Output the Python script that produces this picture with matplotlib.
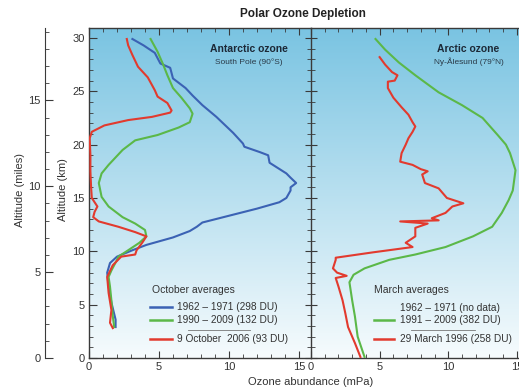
import matplotlib
matplotlib.use('Agg')
import matplotlib.pyplot as plt
import numpy as np
from matplotlib.ticker import MultipleLocator

plt.rcParams['font.family'] = ['Liberation Sans', 'DejaVu Sans']

# Antarctic, South Pole (altitude km, ozone mPa)
ant_1962_alt = [2.9, 3.6, 5.2, 6.7, 8.0, 8.9, 9.5, 10.1, 10.6, 11.3, 11.9, 12.3, 12.7, 13.2, 14.0, 14.6,
                15.0, 15.7, 16.0, 16.4, 16.9, 17.3, 17.8, 18.3, 19.0, 19.3, 19.8, 20.1, 21.1, 21.6, 22.6,
                23.7, 24.6, 25.3, 25.6, 26.2, 27.2, 27.6, 28.6, 29.3, 29.9]
ant_1962_oz = [1.9, 1.9, 1.6, 1.4, 1.3, 1.5, 2.0, 3.1, 4.1, 6.0, 7.2, 7.7, 8.1, 9.6, 12.0, 13.6,
               14.1, 14.4, 14.4, 14.8, 14.4, 14.1, 13.5, 12.9, 12.8, 12.2, 11.1, 11.0, 10.3, 9.9, 9.1,
               8.1, 7.4, 6.9, 6.6, 6.0, 5.8, 5.1, 4.7, 3.9, 3.1]

ant_1990_alt = [2.9, 3.9, 5.4, 6.7, 7.6, 8.2, 9.2, 9.5, 10.1, 10.8, 11.4, 12.0, 12.6, 13.2, 14.2, 15.1,
                16.4, 17.3, 18.1, 19.5, 20.4, 20.9, 21.6, 22.1, 22.9, 23.4, 24.4, 25.3, 26.5, 27.5, 28.7, 29.9]
ant_1990_oz = [1.8, 1.7, 1.6, 1.5, 1.4, 1.6, 2.0, 2.1, 2.8, 3.6, 4.1, 4.0, 3.3, 2.4, 1.4, 0.9,
               0.7, 0.9, 1.4, 2.4, 3.3, 4.9, 6.4, 7.2, 7.4, 7.2, 6.6, 6.0, 5.6, 5.3, 4.9, 4.4]

ant_2006_alt = [2.8, 3.3, 4.5, 6.1, 7.6, 8.7, 9.5, 9.7, 10.1, 10.8, 11.4, 11.8, 12.3, 12.8, 13.2, 13.7,
                14.2, 15.0, 16.0, 17.5, 19.0, 20.6, 21.2, 21.8, 22.3, 22.6, 23.0, 23.2, 23.9, 24.5, 25.1,
                26.3, 27.3, 28.4, 29.3, 29.9]
ant_2006_oz = [1.7, 1.5, 1.6, 1.4, 1.3, 1.7, 2.3, 3.3, 3.4, 3.8, 4.1, 3.3, 2.1, 0.7, 0.3, 0.4,
               0.6, 0.2, 0.15, 0.1, 0.1, 0.05, 0.2, 1.1, 2.8, 4.5, 5.8, 5.9, 5.6, 4.9, 4.7,
               4.2, 3.5, 3.1, 2.8, 2.7]

# Arctic, Ny-Alesund
arc_1991_alt = [0.1, 2.0, 3.9, 5.4, 7.1, 7.8, 8.4, 9.2, 9.7, 10.4, 11.4, 12.3, 13.6, 14.8, 15.7, 17.6,
                19.2, 20.0, 20.9, 22.5, 23.7, 24.9, 26.5, 27.7, 28.9, 29.9]
arc_1991_oz = [3.9, 3.4, 3.2, 3.0, 2.8, 3.1, 3.9, 5.7, 7.6, 9.8, 11.8, 13.2, 13.9, 14.4, 14.7, 14.9,
               14.5, 14.2, 13.6, 12.5, 11.0, 9.3, 7.6, 6.4, 5.4, 4.7]

arc_1996_alt = [0.1, 1.4, 2.9, 4.2, 5.4, 6.7, 7.5, 7.7, 8.0, 8.4, 9.2, 9.4, 9.9, 10.4, 10.8, 11.4,
                12.2, 12.6, 12.8, 12.9, 13.1, 13.6, 14.2, 14.5, 15.0, 15.9, 16.4, 17.2, 17.5, 17.7,
                18.1, 18.4, 19.2, 20.0, 20.6, 21.2, 21.7, 22.1, 22.8, 23.5, 24.4, 25.3, 25.9, 26.0,
                26.5, 26.8, 27.5, 28.2]
arc_1996_oz = [3.6, 3.2, 2.7, 2.5, 2.3, 2.0, 1.8, 2.6, 1.9, 1.6, 1.8, 1.8, 4.5, 7.4, 6.9, 7.6,
               7.6, 8.5, 6.5, 9.3, 8.8, 9.8, 10.3, 11.1, 9.9, 9.3, 8.3, 8.1, 8.5, 8.0,
               7.4, 6.5, 6.6, 6.9, 7.1, 7.4, 7.6, 7.4, 7.1, 6.6, 6.0, 5.6, 5.6, 6.1,
               6.3, 5.9, 5.4, 5.0]

BLUE = '#3b62b4'
GREEN = '#5bb848'
RED = '#e23a2e'
SPINE = '#3a3a3a'

W, H = 519, 391
fig = plt.figure(figsize=(W / 100, H / 100), dpi=100)

bottom = (H - 358) / H
height = 330 / H
ymax = 30.93

ax1 = fig.add_axes([89 / W, bottom, 222 / W, height])
ax2 = fig.add_axes([311 / W, bottom, 210 / W, height])

# background gradient
grad = np.linspace(0, 1, 256)[:, None]
top_c = np.array([122, 196, 226]) / 255
bot_c = np.array([246, 251, 253]) / 255
img = top_c[None, None, :] * (1 - grad[:, :, None]) + bot_c[None, None, :] * grad[:, :, None]

for ax, xmax in ((ax1, 15.86), (ax2, 15.3)):
    ax.imshow(img, extent=[0, 1, 0, 1], transform=ax.transAxes, aspect='auto', zorder=0)
    ax.set_xlim(0, xmax)
    ax.set_ylim(0, ymax)
    ax.xaxis.set_major_locator(MultipleLocator(5))
    ax.xaxis.set_minor_locator(MultipleLocator(1))
    ax.yaxis.set_major_locator(MultipleLocator(5))
    ax.yaxis.set_minor_locator(MultipleLocator(1))
    for s in ax.spines.values():
        s.set_color(SPINE)
        s.set_linewidth(1.0)
    ax.tick_params(axis='x', which='both', direction='in', top=True, colors=SPINE,
                   labelsize=8, labelcolor='#333333', pad=3)
    ax.tick_params(axis='x', which='major', length=5)
    ax.tick_params(axis='x', which='minor', length=3)

ax1.tick_params(axis='y', which='both', direction='in', colors=SPINE, labelsize=8,
                labelcolor='#333333', pad=3)
ax1.tick_params(axis='y', which='major', length=6)
ax1.tick_params(axis='y', which='minor', length=3)
ax1.spines['right'].set_visible(False)

ax2.tick_params(axis='y', which='both', direction='inout', colors=SPINE, labelleft=False)
ax2.tick_params(axis='y', which='major', length=9)
ax2.tick_params(axis='y', which='minor', length=6)
ax2.spines['right'].set_visible(False)

ax1.plot(ant_1962_oz, ant_1962_alt, color=BLUE, lw=1.5, zorder=3)
ax1.plot(ant_1990_oz, ant_1990_alt, color=GREEN, lw=1.5, zorder=3)
ax1.plot(ant_2006_oz, ant_2006_alt, color=RED, lw=1.5, zorder=4)

ax2.plot(arc_1991_oz, arc_1991_alt, color=GREEN, lw=1.5, zorder=3)
ax2.plot(arc_1996_oz, arc_1996_alt, color=RED, lw=1.5, zorder=4)

# panel titles
ax1.text(0.72, 0.936, 'Antarctic ozone', transform=ax1.transAxes, ha='center', va='center',
         fontsize=7.5, fontweight='bold', color='#1c2836')
ax1.text(0.72, 0.897, 'South Pole (90°S)', transform=ax1.transAxes, ha='center', va='center',
         fontsize=6, color='#2a3a48')
ax2.text(0.75, 0.936, 'Arctic ozone', transform=ax2.transAxes, ha='center', va='center',
         fontsize=7.5, fontweight='bold', color='#1c2836')
ax2.text(0.75, 0.897, 'Ny-Ålesund (79°N)', transform=ax2.transAxes, ha='center', va='center',
         fontsize=6, color='#2a3a48')

# legends
TXT = '#333333'
ax1.text(0.284, 0.206, 'October averages', transform=ax1.transAxes, ha='left', va='center',
         fontsize=7.5, color=TXT)
for y, c, lab in ((0.155, BLUE, '1962 – 1971 (298 DU)'),
                  (0.115, GREEN, '1990 – 2009 (132 DU)'),
                  (0.058, RED, '9 October  2006 (93 DU)')):
    ax1.plot([0.275, 0.374], [y, y], color=c, lw=1.8, transform=ax1.transAxes)
    ax1.text(0.396, y, lab, transform=ax1.transAxes, ha='left', va='center', fontsize=7.3, color=TXT)
ax1.plot([0.446, 0.725], [0.085, 0.085], color='#777777', lw=0.6, transform=ax1.transAxes)

ax2.text(0.298, 0.206, 'March averages', transform=ax2.transAxes, ha='left', va='center',
         fontsize=7.5, color=TXT)
ax2.text(0.423, 0.152, '1962 – 1971 (no data)', transform=ax2.transAxes, ha='left', va='center',
         fontsize=7.3, color=TXT)
for y, c, lab in ((0.115, GREEN, '1991 – 2009 (382 DU)'),
                  (0.058, RED, '29 March 1996 (258 DU)')):
    ax2.plot([0.298, 0.394], [y, y], color=c, lw=1.8, transform=ax2.transAxes)
    ax2.text(0.423, y, lab, transform=ax2.transAxes, ha='left', va='center', fontsize=7.3, color=TXT)
ax2.plot([0.476, 0.779], [0.085, 0.085], color='#777777', lw=0.6, transform=ax2.transAxes)

# miles axis
axm = fig.add_axes([45 / W, bottom, 0.001, height])
axm.set_ylim(0, ymax / 1.60934)
axm.patch.set_visible(False)
for k in ('top', 'right', 'bottom'):
    axm.spines[k].set_visible(False)
axm.spines['left'].set_color(SPINE)
axm.set_xticks([])
axm.yaxis.set_major_locator(MultipleLocator(5))
axm.yaxis.set_minor_locator(MultipleLocator(1))
axm.tick_params(axis='y', which='both', direction='in', colors=SPINE, labelsize=8,
                labelcolor='#333333', pad=3)
axm.tick_params(axis='y', which='major', length=6)
axm.tick_params(axis='y', which='minor', length=3)

fig.text(63 / W, 1 - 190 / H, 'Altitude (km)', rotation=90, ha='center', va='center',
         fontsize=8, color=TXT)
fig.text(20 / W, 1 - 190 / H, 'Altitude (miles)', rotation=90, ha='center', va='center',
         fontsize=8, color=TXT)
fig.text(311 / W, 1 - 382 / H, 'Ozone abundance (mPa)', ha='center', va='center',
         fontsize=8, color=TXT)
fig.text(303 / W, 1 - 14 / H, 'Polar Ozone Depletion', ha='center', va='center',
         fontsize=8.5, fontweight='bold', color='#222222')

fig.savefig('out.png', dpi=100)
